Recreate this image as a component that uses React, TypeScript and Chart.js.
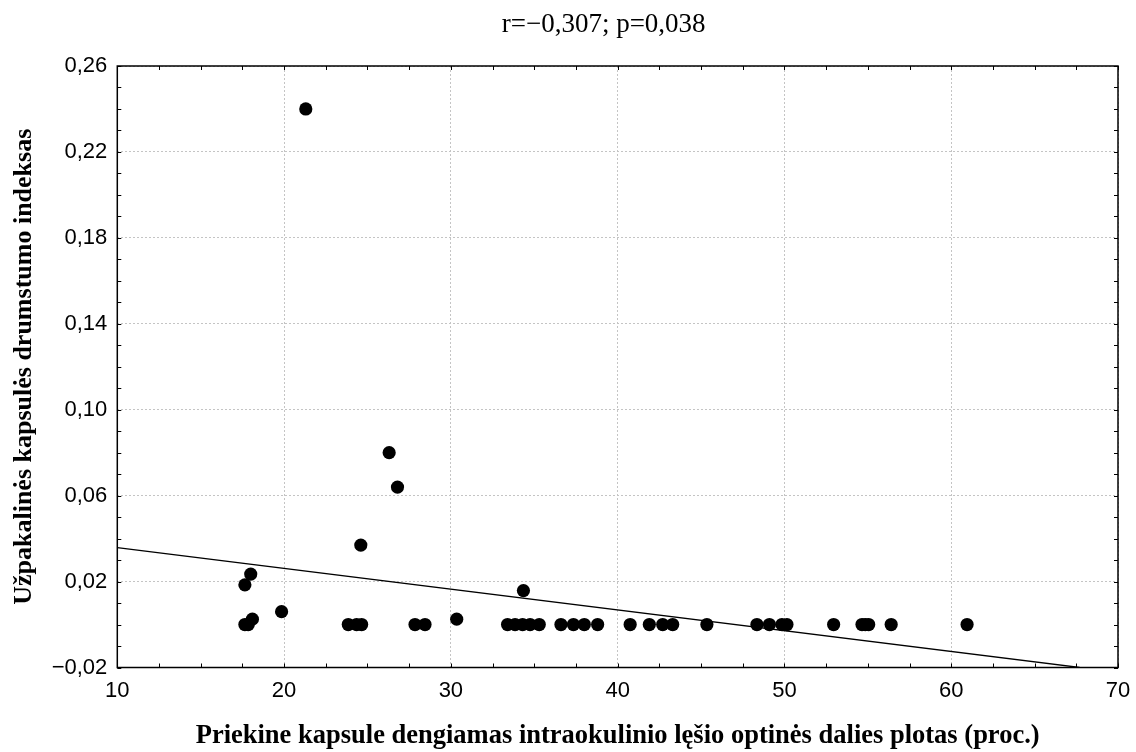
import React, { useEffect, useRef } from "react";
import { Chart, registerables } from "chart.js";

Chart.register(...registerables);

// ---- Data ----
const xValues = [
  21.3, 26.3, 26.8, 24.6, 17.65, 18.0, 17.65, 17.85, 18.1, 19.85,
  23.85, 24.35, 24.65, 27.85, 28.45, 30.35, 34.35, 33.4, 33.85, 34.3,
  34.75, 35.3, 36.6, 37.35, 38.0, 38.8, 40.75, 41.9, 42.7, 43.3,
  45.35, 48.35, 49.1, 49.85, 50.15, 52.95, 54.65, 54.85, 55.05, 56.4,
  60.95,
];
const yValues = [
  0.24, 0.08, 0.064, 0.037, 0.0185, 0.0235, 0, 0, 0.0025, 0.006,
  0, 0, 0, 0, 0, 0.0025, 0.0158, 0, 0, 0,
  0, 0, 0, 0, 0, 0, 0, 0, 0, 0,
  0, 0, 0, 0, 0, 0, 0, 0, 0, 0,
  0,
];
// Fitted regression line end points
const fitX = [10, 67.7];
const fitY = [0.0358, -0.02];

const xTicks = [10, 20, 30, 40, 50, 60, 70];
const yTicks = [-0.02, 0.02, 0.06, 0.1, 0.14, 0.18, 0.22, 0.26];

const titleText = "r=\u22120,307; p=0,038";
const xTitle =
  "Priekine kapsule dengiamas intraokulinio lęšio optinės dalies plotas (proc.)";
const yTitle = "Užpakalinės kapsulės drumstumo indeksas";

const X_MIN = 10;
const X_MAX = 70;
const X_MINOR = 2.5;
const Y_MIN = -0.02;
const Y_MAX = 0.26;
const Y_MINOR = 0.01;

const sans = "'Liberation Sans', Arial, sans-serif";
const serif = "'Liberation Serif', 'Times New Roman', serif";

const fmtY = (v: number) => {
  const s = Math.abs(v).toFixed(2).replace(".", ",");
  return v < -1e-9 ? "\u2212" + s : s;
};

const framePlugin = {
  id: "frameTicksTitle",
  afterDraw(chart: any) {
    const { ctx, chartArea, scales } = chart;
    const { left, right, top, bottom } = chartArea;
    const x = scales.x;
    const y = scales.y;
    const tickLen = 4;
    ctx.save();
    ctx.strokeStyle = "#000";
    ctx.lineWidth = 1;
    ctx.beginPath();
    const nx = Math.round((X_MAX - X_MIN) / X_MINOR);
    for (let i = 0; i <= nx; i++) {
      const px = Math.round(x.getPixelForValue(X_MIN + i * X_MINOR)) + 0.5;
      ctx.moveTo(px, bottom);
      ctx.lineTo(px, bottom - tickLen);
      ctx.moveTo(px, top);
      ctx.lineTo(px, top + tickLen);
    }
    const ny = Math.round((Y_MAX - Y_MIN) / Y_MINOR);
    for (let i = 0; i <= ny; i++) {
      const py = Math.round(y.getPixelForValue(Y_MIN + i * Y_MINOR)) + 0.5;
      ctx.moveTo(left, py);
      ctx.lineTo(left + tickLen, py);
      ctx.moveTo(right, py);
      ctx.lineTo(right - tickLen, py);
    }
    ctx.stroke();
    ctx.lineWidth = 1.5;
    ctx.strokeRect(left, top, right - left, bottom - top);

    ctx.fillStyle = "#000";
    ctx.font = `27px ${serif}`;
    ctx.textAlign = "center";
    ctx.textBaseline = "alphabetic";
    ctx.fillText(titleText, (left + right) / 2 - 14, 32);
    ctx.restore();
  },
};

export default function App() {
  const canvasRef = useRef<HTMLCanvasElement | null>(null);

  useEffect(() => {
    document.body.style.margin = "0";
    const canvas = canvasRef.current;
    if (!canvas) return;
    const points = xValues.map((v, i) => ({ x: v, y: yValues[i] }));
    const fit = fitX.map((v, i) => ({ x: v, y: fitY[i] }));

    const chart = new Chart(canvas, {
      type: "scatter",
      data: {
        datasets: [
          {
            label: "data",
            data: points,
            backgroundColor: "#000",
            borderColor: "#000",
            pointRadius: 6.6,
            pointBorderWidth: 0,
            pointHoverRadius: 6.6,
          },
          {
            label: "fit",
            data: fit,
            showLine: true,
            borderColor: "#000",
            borderWidth: 1.3,
            pointRadius: 0,
            pointHoverRadius: 0,
            fill: false,
          } as any,
        ],
      },
      options: {
        animation: false,
        responsive: false,
        devicePixelRatio: 1,
        layout: { padding: { top: 66, right: 18, left: 0, bottom: 0 } },
        plugins: {
          legend: { display: false },
          tooltip: { enabled: false },
          title: { display: false },
        },
        scales: {
          x: {
            type: "linear",
            min: X_MIN,
            max: X_MAX,
            afterBuildTicks: (scale: any) => {
              scale.ticks = xTicks.map((v) => ({ value: v }));
            },
            afterFit: (scale: any) => {
              scale.height = 84.5;
              scale.paddingLeft = 0;
              scale.paddingRight = 0;
            },
            ticks: {
              color: "#000",
              font: { family: sans, size: 22 },
              padding: 10,
              maxRotation: 0,
              autoSkip: false,
              callback: (v: any) => String(v),
            },
            grid: {
              color: "#c4c4c4",
              lineWidth: 1,
              drawTicks: false,
            },
            border: { display: false, dash: [2, 2] },
            title: {
              display: true,
              text: xTitle,
              color: "#000",
              font: { family: serif, size: 26.5, weight: "bold" },
              padding: { top: 0, bottom: 0 },
            },
          },
          y: {
            type: "linear",
            min: Y_MIN,
            max: Y_MAX,
            afterBuildTicks: (scale: any) => {
              scale.ticks = yTicks.map((v) => ({ value: v }));
            },
            afterFit: (scale: any) => {
              scale.width = 117.3;
              scale.paddingTop = 0;
              scale.paddingBottom = 0;
            },
            ticks: {
              color: "#000",
              font: { family: sans, size: 22 },
              padding: 10,
              autoSkip: false,
              callback: (v: any) => fmtY(Number(v)),
            },
            grid: {
              color: "#c4c4c4",
              lineWidth: 1,
              drawTicks: false,
            },
            border: { display: false, dash: [2, 2] },
            title: {
              display: true,
              text: yTitle,
              color: "#000",
              font: { family: serif, size: 26, weight: "bold" },
              padding: { top: 9, bottom: 0 },
            },
          },
        },
      },
      plugins: [framePlugin],
    });
    return () => chart.destroy();
  }, []);

  return (
    <div
      style={{
        position: "fixed",
        left: 0,
        top: 0,
        width: 1136,
        height: 752,
        background: "#fff",
      }}
    >
      <canvas ref={canvasRef} width={1136} height={752} style={{ display: "block" }} />
    </div>
  );
}
